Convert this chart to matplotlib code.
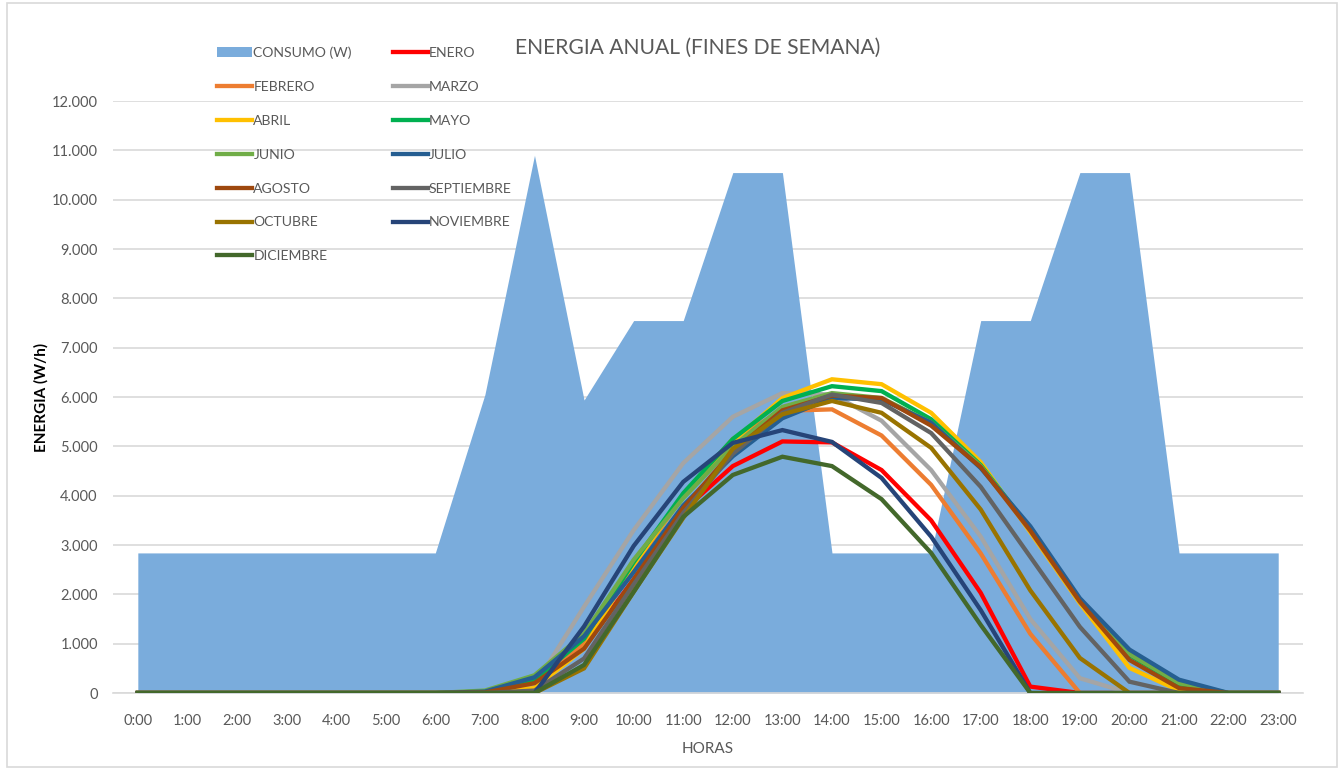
import matplotlib.pyplot as plt
from matplotlib.patches import Rectangle
from matplotlib.ticker import FuncFormatter

horas = [f"{h}:00" for h in range(24)]

consumo = [2840, 2840, 2840, 2840, 2840, 2840, 2840, 6050, 10900, 5940, 7550, 7550,
           10550, 10550, 2840, 2840, 2840, 7550, 7550, 10550, 10550, 2840, 2840, 2840]

enero = [0, 0, 0, 0, 0, 0, 0, 0, 100, 950, 2300, 3700,
         4600, 5100, 5080, 4520, 3500, 2030, 130, 0, 0, 0, 0, 0]
febrero = [0, 0, 0, 0, 0, 0, 0, 0, 150, 1000, 2550, 4000,
           5150, 5720, 5750, 5220, 4220, 2830, 1200, 0, 0, 0, 0, 0]
marzo = [0, 0, 0, 0, 0, 0, 0, 0, 150, 1750, 3300, 4660,
         5600, 6080, 6050, 5520, 4520, 3170, 1500, 300, 0, 0, 0, 0]
abril = [0, 0, 0, 0, 0, 0, 0, 0, 100, 900, 2600, 4000,
         5100, 5980, 6360, 6260, 5680, 4680, 3260, 1820, 510, 50, 0, 0]
mayo = [0, 0, 0, 0, 0, 0, 0, 30, 260, 1100, 2650, 4050,
        5150, 5920, 6220, 6120, 5550, 4620, 3330, 1870, 770, 180, 0, 0]
junio = [0, 0, 0, 0, 0, 0, 0, 50, 360, 1200, 2700, 3950,
         5000, 5800, 6080, 5980, 5480, 4600, 3320, 1880, 790, 200, 0, 0]
julio = [0, 0, 0, 0, 0, 0, 0, 30, 320, 1150, 2450, 3800,
         4800, 5570, 5980, 5950, 5480, 4560, 3380, 1920, 880, 270, 0, 0]
agosto = [0, 0, 0, 0, 0, 0, 0, 10, 200, 900, 2300, 3750,
          4900, 5730, 6030, 5980, 5420, 4580, 3290, 1850, 670, 100, 0, 0]
septiembre = [0, 0, 0, 0, 0, 0, 0, 0, 50, 700, 2200, 3650,
              4850, 5680, 6050, 5880, 5270, 4180, 2760, 1340, 230, 0, 0, 0]
octubre = [0, 0, 0, 0, 0, 0, 0, 0, 0, 500, 2050, 3550,
           4950, 5650, 5920, 5680, 4970, 3720, 2080, 710, 0, 0, 0, 0]
noviembre = [0, 0, 0, 0, 0, 0, 0, 0, 0, 1350, 2980, 4280,
             5070, 5330, 5090, 4360, 3170, 1680, 0, 0, 0, 0, 0, 0]
diciembre = [0, 0, 0, 0, 0, 0, 0, 0, 0, 570, 2050, 3570,
             4420, 4790, 4600, 3930, 2840, 1380, 0, 0, 0, 0, 0, 0]

meses = ["ENERO", "FEBRERO", "MARZO", "ABRIL", "MAYO", "JUNIO", "JULIO",
         "AGOSTO", "SEPTIEMBRE", "OCTUBRE", "NOVIEMBRE", "DICIEMBRE"]
series = [enero, febrero, marzo, abril, mayo, junio, julio,
          agosto, septiembre, octubre, noviembre, diciembre]
colores = ["#FF0000", "#ED7D31", "#A5A5A5", "#FFC000", "#00B050", "#70AD47",
           "#255E91", "#9E480E", "#636363", "#997300", "#264478", "#43682B"]

plt.rcParams['font.family'] = ['Lato', 'DejaVu Sans']
gris = "#595959"

fig = plt.figure(figsize=(13.44, 7.69), dpi=100)
fig.patches.append(Rectangle((0.005, 0.003), 0.99, 0.993, transform=fig.transFigure,
                             fill=False, edgecolor="#D9D9D9", lw=1.2))
ax = fig.add_axes([0.0841, 0.0988, 0.8854, 0.7698])

x = list(range(len(horas)))
area = ax.fill_between(x, consumo, color="#7AACDC", lw=0, label="CONSUMO (W)", zorder=2)
lineas = []
for nombre, valores, c in zip(meses, series, colores):
    l, = ax.plot(x, valores, color=c, lw=3.1, label=nombre, zorder=3,
                 solid_joinstyle="miter")
    lineas.append(l)

ax.set_xlim(-0.5, 23.5)
ax.set_ylim(0, 12000)
ax.set_yticks(range(0, 12001, 1000))
ax.yaxis.set_major_formatter(FuncFormatter(lambda v, p: f"{int(v):,}".replace(",", ".")))
ax.set_xticks(x)
ax.set_xticklabels(horas)
ax.tick_params(axis="both", length=0, labelsize=10.5, colors=gris)
ax.tick_params(axis="y", pad=11)
ax.tick_params(axis="x", pad=15)
ax.grid(axis="y", color="#D9D9D9", lw=1.2, zorder=0)
ax.set_axisbelow(True)
for s in ["left", "right", "top"]:
    ax.spines[s].set_visible(False)
ax.spines["bottom"].set_color("#D9D9D9")
ax.spines["bottom"].set_linewidth(1.2)

ax.set_xlabel("HORAS", fontsize=11, color=gris, labelpad=10)
ax.set_ylabel("ENERGIA (W/h)", fontsize=11, fontweight="bold", color="black")
ax.yaxis.set_label_coords(-0.0545, 0.5)
fig.text(0.519, 0.938, "ENERGIA ANUAL (FINES DE SEMANA)", ha="center", va="center",
         fontsize=15.2, color=gris)

# leyenda en orden por filas: columna 1 y columna 2
todos = [area] + lineas
orden = [0, 2, 4, 6, 8, 10, 12, 1, 3, 5, 7, 9, 11]
fig.legend([todos[i] for i in orden], [todos[i].get_label() for i in orden],
           loc="upper left", bbox_to_anchor=(0.152, 0.956), ncol=2, frameon=False,
           fontsize=10.1, labelcolor=gris, handlelength=2.5, handletextpad=0.1,
           labelspacing=1.56, columnspacing=2.9)

fig.savefig("out.png", dpi=100)
